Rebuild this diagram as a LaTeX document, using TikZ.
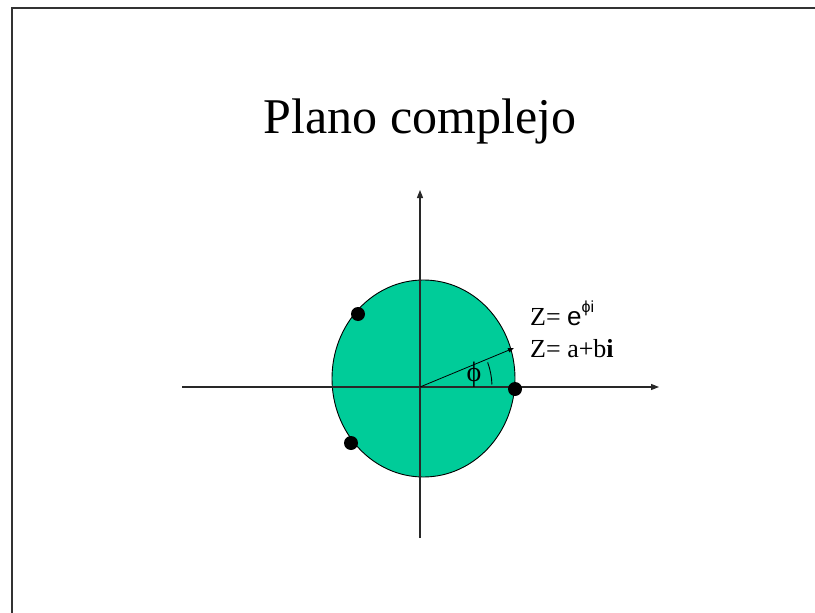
\documentclass[tikz,border=0pt]{standalone}
\usepackage{fontspec}
\setmainfont{Liberation Serif}
\newfontfamily\arialf{Liberation Sans}
\usetikzlibrary{arrows.meta,shapes.geometric}
\definecolor{diskgreen}{RGB}{0,204,153}
\definecolor{axisgray}{RGB}{40,40,40}
\begin{document}
\begin{tikzpicture}[x=1pt,y=-1pt,
  axisline/.style={draw=axisgray,line width=1.1pt,-{Triangle[length=8pt,width=6pt]}},
  dotmark/.style={circle,fill=black,inner sep=0pt,minimum size=14pt},
  lbl/.style={anchor=base west,inner sep=0pt,font=\fontsize{26}{30}\selectfont}]
\useasboundingbox (0,0) rectangle (815,613);
% slide border
\draw[line width=1.6pt,draw=black!80] (12,613) -- (12,8) -- (815,8);
% title
\node[font=\fontsize{50}{58}\selectfont,anchor=base] (title) at (420,133) {Plano complejo};
% disk
\node[ellipse,draw=black,line width=0.9pt,fill=diskgreen,minimum width=183pt,minimum height=197pt,inner sep=0pt] (disk) at (423.5,378.5) {};
% axes
\coordinate (O) at (420,387);
\coordinate (xl) at (182,387);
\coordinate (xr) at (659,387);
\coordinate (yb) at (420,538);
\coordinate (yt) at (420,190);
\draw[axisline] (xl) -- (xr);
\draw[axisline] (yb) -- (yt);
% radius vector
\coordinate (zp) at (514,348);
\draw[line width=0.8pt,-{Triangle[length=6pt,width=4.5pt]}] (O) -- (zp);
% angle arc
\draw[line width=0.9pt] ([shift={(-20:72)}]O) arc[start angle=-20,end angle=-2,radius=72];
\node[font=\fontsize{28}{30}\selectfont,inner sep=0pt] (phi) at (474,375) {ϕ};
% points
\node[dotmark] (p1) at (358,314) {};
\node[dotmark] (p2) at (351,443) {};
\node[dotmark] (p3) at (515,389) {};
% labels
\node[lbl] (z1) at (530,325) {Z= {\arialf e\raisebox{0.5em}{\fontsize{16}{16}\selectfont ϕi}}};
\node[lbl] (z2) at (530,357) {Z= a+b\textbf{i}};
\end{tikzpicture}
\end{document}
